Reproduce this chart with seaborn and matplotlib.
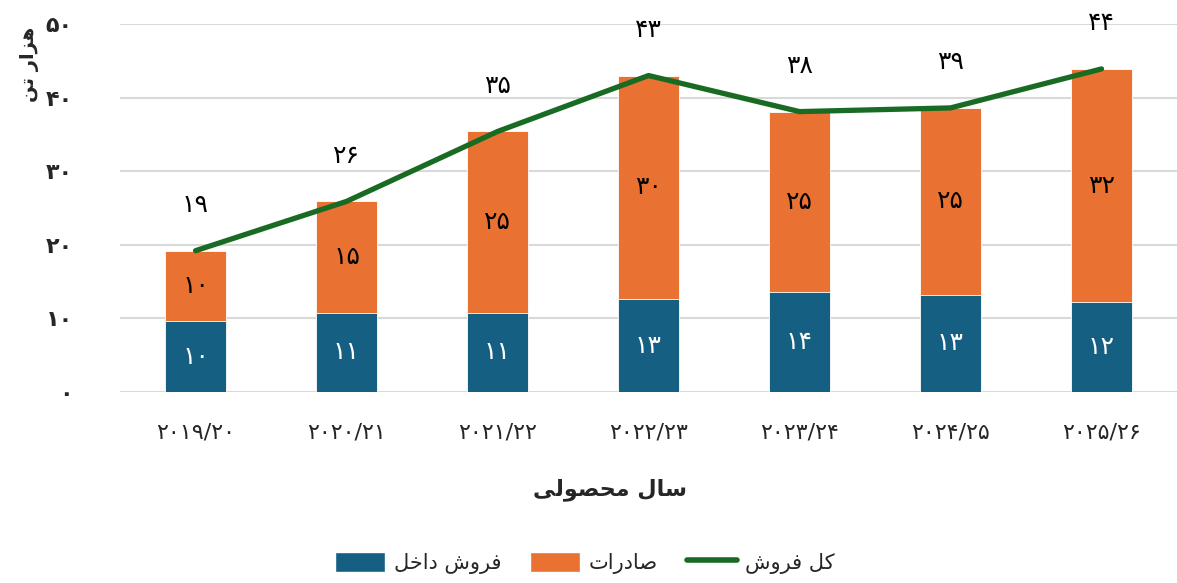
import numpy as np
import matplotlib
matplotlib.use('Agg')
import matplotlib.pyplot as plt
import seaborn as sns
from matplotlib.patches import Patch
from matplotlib.lines import Line2D

# data (thousand tonnes)
years = ['2019/20', '2020/21', '2021/22', '2022/23', '2023/24', '2024/25', '2025/26']
domestic = [9.6, 10.8, 10.8, 12.6, 13.6, 13.2, 12.2]
exports = [9.6, 15.1, 24.6, 30.4, 24.5, 25.4, 31.7]
y_ticks = [0, 10, 20, 30, 40, 50]

blue = '#156082'
orange = '#E97132'
green = '#196B24'

# --- minimal Persian shaping (matplotlib has no RTL / joining support) ---
FORMS = {
    'ا': ('\uFE8D', '\uFE8E'), 'د': ('\uFEA9', '\uFEAA'), 'ر': ('\uFEAD', '\uFEAE'),
    'ز': ('\uFEAF', '\uFEB0'), 'و': ('\uFEED', '\uFEEE'),
    'ت': ('\uFE95', '\uFE96', '\uFE97', '\uFE98'), 'ح': ('\uFEA1', '\uFEA2', '\uFEA3', '\uFEA4'),
    'خ': ('\uFEA5', '\uFEA6', '\uFEA7', '\uFEA8'), 'س': ('\uFEB1', '\uFEB2', '\uFEB3', '\uFEB4'),
    'ش': ('\uFEB5', '\uFEB6', '\uFEB7', '\uFEB8'), 'ص': ('\uFEB9', '\uFEBA', '\uFEBB', '\uFEBC'),
    'ف': ('\uFED1', '\uFED2', '\uFED3', '\uFED4'), 'ل': ('\uFEDD', '\uFEDE', '\uFEDF', '\uFEE0'),
    'م': ('\uFEE1', '\uFEE2', '\uFEE3', '\uFEE4'), 'ن': ('\uFEE5', '\uFEE6', '\uFEE7', '\uFEE8'),
    'ه': ('\uFEE9', '\uFEEA', '\uFEEB', '\uFEEC'), 'ی': ('\uFBFC', '\uFBFD', '\uFBFE', '\uFBFF'),
    'ک': ('\uFB8E', '\uFB8F', '\uFB90', '\uFB91'),
}


def fa(s):
    out = []
    for i, c in enumerate(s):
        if c not in FORMS:
            out.append(c)
            continue
        prev = s[i - 1] if i > 0 else None
        nxt = s[i + 1] if i + 1 < len(s) else None
        jp = prev in FORMS and len(FORMS[prev]) == 4
        jn = nxt in FORMS and len(FORMS[c]) == 4
        f = FORMS[c]
        if jp and jn:
            out.append(f[3])
        elif jp:
            out.append(f[1])
        elif jn:
            out.append(f[2])
        else:
            out.append(f[0])
    return ''.join(out)[::-1]


DIG = str.maketrans('0123456789', '۰۱۲۳۴۵۶۷۸۹')


def fnum(v):
    return str(int(np.floor(v + 0.5))).translate(DIG)


sns.set_style('white')
plt.rcParams['font.family'] = ['DejaVu Sans']

totals = [d + e for d, e in zip(domestic, exports)]
labels = [y.translate(DIG) for y in years]

fig = plt.figure(figsize=(11.77, 5.83), dpi=100)
ax = fig.add_axes([0.102, 0.3276, 0.898, 0.6312])

sns.barplot(x=labels, y=totals, color=orange, width=0.4, saturation=1,
            edgecolor='white', linewidth=0.6, ax=ax, zorder=2)
sns.barplot(x=labels, y=domestic, color=blue, width=0.4, saturation=1,
            edgecolor='white', linewidth=0.6, ax=ax, zorder=3)
sns.lineplot(x=labels, y=totals, color=green, linewidth=3.8, sort=False,
             solid_capstyle='round', ax=ax, zorder=4)

for i in range(len(years)):
    ax.text(i, domestic[i] / 2, fnum(domestic[i]), ha='center', va='center',
            color='white', fontsize=18, zorder=5)
    ax.text(i, domestic[i] + exports[i] / 2, fnum(exports[i]), ha='center', va='center',
            color='black', fontsize=18, zorder=5)
    ax.text(i, totals[i] + 6.2, fnum(totals[i]), ha='center', va='center',
            color='black', fontsize=18, zorder=5)

ax.set_ylim(0, 50)
ax.set_xlim(-0.5, len(years) - 0.5)
ax.set_yticks(y_ticks)
ax.set_yticklabels([str(t).translate(DIG) for t in y_ticks], fontsize=16, fontweight='bold')
ax.tick_params(axis='y', length=0, pad=34)
ax.tick_params(axis='x', length=0, pad=22, labelsize=16)
ax.grid(axis='y', color='#d9d9d9', linewidth=1.5, zorder=0)
ax.set_axisbelow(True)
for s in ax.spines.values():
    s.set_visible(False)

ax.set_ylabel(fa('هزار تن'), fontsize=14, fontweight='bold', rotation=90)
ax.yaxis.set_label_coords(-0.077, 0.89)
ax.set_xlabel(fa('سال محصولی'), fontsize=16, fontweight='bold')
ax.xaxis.set_label_coords(0.464, -0.235)

handles = [Patch(facecolor=blue), Patch(facecolor=orange),
           Line2D([0], [0], color=green, linewidth=4, solid_capstyle='round')]
fig.legend(handles, [fa('فروش داخل'), fa('صادرات'), fa('کل فروش')],
           loc='center', bbox_to_anchor=(0.497, 0.035), ncol=3, frameon=False,
           fontsize=15, handlelength=2.4, handleheight=1.1, columnspacing=1.4,
           handletextpad=0.4)

fig.savefig('out.png', dpi=100)
